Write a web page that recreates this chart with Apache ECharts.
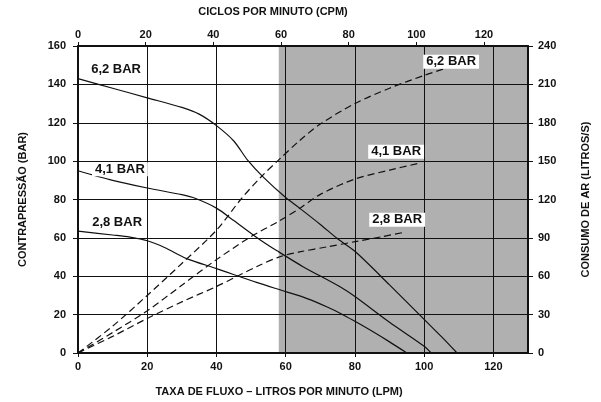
<!DOCTYPE html>
<html>
<head>
<meta charset="utf-8">
<script src="https://cdn.jsdelivr.net/npm/echarts@6/dist/echarts.min.js"></script>
<style>html,body{margin:0;padding:0;background:#fff}#c{width:601px;height:402px}</style>
</head>
<body>
<div id="c"></div>
<script>
// Pressure curves (LPM vs back pressure, left axis)
var p62 = [[0,143],[10,138],[20,133],[30,128],[35,124.5],[40,118.5],[45,110.5],[49,100.5],[53.6,91.5],[60,81],[64,75.5],[70,67],[75,59.5],[80,53],[90,35.5],[100,17.5],[105,8.5],[109.5,0]];
var p41 = [[0,95],[10,90],[20,86],[30,82.5],[34,80.5],[40,75.5],[45,69],[51,61],[55.5,55.5],[58,52.7],[65,45],[75.7,34.5],[80,29.4],[90,16],[100,3.5],[102,0]];
var p28 = [[0,63.5],[10,61.5],[15,60.4],[20,58.5],[25,55],[31.4,49.2],[40,44],[51.6,36.8],[60,32],[66,28.5],[72,24],[76,20.5],[80,16.5],[85,11.3],[90,5.8],[95,0]];
// Air consumption curves (right axis, litros/s)
var a62 = [[0,0],[10,21],[20,45],[30,70],[40,96],[47,120],[53,138],[58,151],[64,166],[70,179],[80,195],[90,207],[100,217],[105.5,222]];
var a41 = [[0,0],[10,16],[20,33],[30,53],[40,73],[50,91],[58,103],[64,113],[70,124],[80,136],[90,143],[98,148]];
var a28 = [[0,0],[10,13],[20,27],[30,40],[40,52],[46,60],[52,68],[58,75],[64,79],[72,83],[80,87],[88,91],[94.5,94.5]];
// Curve labels: [x, y(left axis), text]
var labels = [[11,148,'6,2 BAR'],[12.1,95.8,'4,1 BAR'],[11.3,67.9,'2,8 BAR'],[107.8,151.8,'6,2 BAR'],[91.9,104.9,'4,1 BAR'],[92.2,69.4,'2,8 BAR']];
var grayStart = 58;
var xTicksBottom = {min:0,max:130,interval:20};
var xTicksTop = {min:0,max:133,interval:20};
var yLeft = {min:0,max:160,interval:20};
var yRight = {min:0,max:240,interval:30};

var FONT = '"Liberation Sans", Arial, sans-serif';
var ink = '#111';
var lbl = {color: ink, fontWeight:'bold', fontSize:11, fontFamily: FONT};
var nameSt = {color: ink, fontWeight:'bold', fontSize:11, fontFamily: FONT};

var chart = echarts.init(document.getElementById('c'), null, {renderer:'canvas'});
function solid(d){return {type:'line',data:d,xAxisIndex:0,yAxisIndex:0,smooth:0.3,symbol:'none',z:5,lineStyle:{color:ink,width:1.2}};}
function dashed(d){return {type:'line',data:d,xAxisIndex:0,yAxisIndex:1,smooth:0.3,symbol:'none',z:5,lineStyle:{color:ink,width:1.2,type:[7,4]}};}
chart.setOption({
  animation:false,
  backgroundColor:'#fff',
  grid:{left:78,right:73,top:46,bottom:47,show:false},
  xAxis:[
    {type:'value',position:'bottom',min:xTicksBottom.min,max:xTicksBottom.max,interval:xTicksBottom.interval,z:4,
     name:'TAXA DE FLUXO – LITROS POR MINUTO (LPM)',nameLocation:'middle',nameGap:33,
     nameTextStyle:Object.assign({padding:[0,48,0,0]},nameSt),
     axisLine:{show:true,onZero:false,lineStyle:{color:ink,width:2}},
     axisTick:{show:true,length:4,lineStyle:{color:ink}},
     axisLabel:Object.assign({margin:8,showMaxLabel:false},lbl),
     splitLine:{show:true,lineStyle:{color:ink,width:1}}},
    {type:'value',position:'top',min:xTicksTop.min,max:xTicksTop.max,interval:xTicksTop.interval,z:4,
     name:'CICLOS POR MINUTO (CPM)',nameLocation:'middle',nameGap:29,
     nameTextStyle:Object.assign({padding:[0,60,0,0]},nameSt),
     axisLine:{show:true,onZero:false,lineStyle:{color:ink,width:2}},
     axisTick:{show:true,length:4,lineStyle:{color:ink}},
     axisLabel:Object.assign({margin:6,showMaxLabel:false},lbl),
     splitLine:{show:false}}
  ],
  yAxis:[
    {type:'value',position:'left',min:yLeft.min,max:yLeft.max,interval:yLeft.interval,z:4,
     name:'CONTRAPRESSÃO (BAR)',nameLocation:'middle',nameGap:50,nameRotate:90,
     nameTextStyle:nameSt,
     axisLine:{show:true,onZero:false,lineStyle:{color:ink,width:2}},
     axisTick:{show:true,length:5,lineStyle:{color:ink}},
     axisLabel:Object.assign({margin:12},lbl),
     splitLine:{show:true,lineStyle:{color:ink,width:1}}},
    {type:'value',position:'right',min:yRight.min,max:yRight.max,interval:yRight.interval,z:4,
     name:'CONSUMO DE AR (LITROS/S)',nameLocation:'middle',nameGap:52,nameRotate:90,
     nameTextStyle:nameSt,
     axisLine:{show:true,onZero:false,lineStyle:{color:ink,width:2}},
     axisTick:{show:true,length:5,lineStyle:{color:ink}},
     axisLabel:Object.assign({margin:10},lbl),
     splitLine:{show:false}}
  ],
  series:[
    {type:'line',data:[[0,0]],symbol:'none',z:1,lineStyle:{opacity:0},silent:true,
     markArea:{silent:true,itemStyle:{color:'#b0b0b0'},data:[[{xAxis:grayStart,yAxis:yLeft.min},{xAxis:xTicksBottom.max,yAxis:yLeft.max}]]}},
    solid(p62),solid(p41),solid(p28),
    dashed(a62),dashed(a41),dashed(a28),
    {type:'scatter',z:6,symbolSize:0,xAxisIndex:0,yAxisIndex:0,
     data:labels.map(function(l){return {value:[l[0],l[1]],name:l[2]};}),
     itemStyle:{opacity:1},
     label:{show:true,position:'inside',formatter:function(p){return p.name;},
       color:'#111',fontWeight:'bold',fontSize:13,fontFamily:FONT,backgroundColor:'#fff',padding:[1,3,0,3]}}
  ]
});
</script>
</body>
</html>
